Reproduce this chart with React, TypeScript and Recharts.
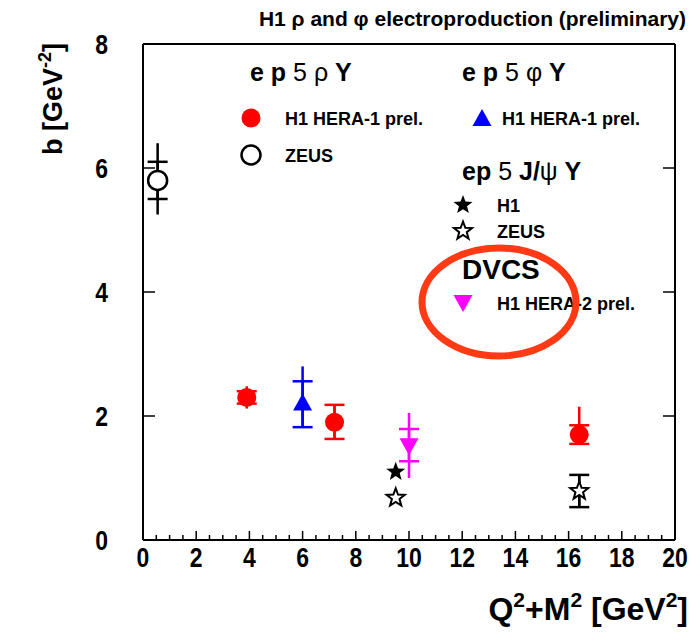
import React from "react";
import { ErrorBar, Scatter, ScatterChart, XAxis, YAxis } from "recharts";

// b slope vs Q^2+M^2
type Pt = { x: number; y: number; stat?: [number, number]; tot?: [number, number] };

const rhoH1: Pt[] = [
  { x: 3.9, y: 2.3, stat: [0.1, 0.1], tot: [0.18, 0.18] },
  { x: 7.2, y: 1.9, stat: [0.27, 0.28], tot: [0.27, 0.28] },
  { x: 16.4, y: 1.7, stat: [0.15, 0.15], tot: [0.15, 0.45] },
];
const rhoZeus: Pt[] = [{ x: 0.55, y: 5.8, stat: [0.3, 0.3], tot: [0.55, 0.6] }];
const phiH1: Pt[] = [{ x: 6.0, y: 2.2, stat: [0.38, 0.36], tot: [0.38, 0.6] }];
const psiH1: Pt[] = [{ x: 9.5, y: 1.1 }];
const psiZeus: Pt[] = [
  { x: 9.5, y: 0.68 },
  { x: 16.4, y: 0.79, stat: [0.26, 0.26], tot: [0.26, 0.26] },
];
const dvcsH1: Pt[] = [{ x: 10.0, y: 1.53, stat: [0.26, 0.26], tot: [0.53, 0.52] }];

const xTicks = Array.from({ length: 41 }, (_, i) => i * 0.5);
const yTicks = [0, 2, 4, 6, 8];

const FONT = "'Liberation Sans', Arial, Helvetica, sans-serif";
const RED = "#ff0000";
const BLUE = "#0000ff";
const MAGENTA = "#ff00ff";

function starPoints(cx: number, cy: number, R: number) {
  const pts: string[] = [];
  for (let i = 0; i < 10; i++) {
    const r = i % 2 === 0 ? R : R * 0.42;
    const a = -Math.PI / 2 + (i * Math.PI) / 5;
    pts.push(`${cx + r * Math.cos(a)},${cy + r * Math.sin(a)}`);
  }
  return pts.join(" ");
}

function Marker({ kind, cx, cy }: { kind: string; cx: number; cy: number }) {
  switch (kind) {
    case "fcircle":
      return <circle cx={cx} cy={cy} r={9.5} fill={RED} />;
    case "ocircle":
      return <circle cx={cx} cy={cy} r={9.5} fill="#fff" stroke="#000" strokeWidth={2.5} />;
    case "tri":
      return <polygon points={`${cx},${cy - 10} ${cx - 9.5},${cy + 7} ${cx + 9.5},${cy + 7}`} fill={BLUE} />;
    case "itri":
      return <polygon points={`${cx},${cy + 10} ${cx - 9.5},${cy - 7} ${cx + 9.5},${cy - 7}`} fill={MAGENTA} />;
    case "fstar":
      return <polygon points={starPoints(cx, cy, 10)} fill="#000" />;
    default:
      return <polygon points={starPoints(cx, cy, 9.5)} fill="#fff" stroke="#000" strokeWidth={2} />;
  }
}

const shape = (kind: string) => (p: any) => <Marker kind={kind} cx={p.cx} cy={p.cy} />;

// ROOT-ish tall bold digits
function Num({ x, y, anchor, v }: { x: number; y: number; anchor: "middle" | "end"; v: number }) {
  return (
    <text
      transform={`translate(${x},${y}) scale(1,1.2)`}
      textAnchor={anchor}
      fontFamily={FONT}
      fontWeight="bold"
      fontSize={23}
      fill="#000"
    >
      {v}
    </text>
  );
}

function BottomTick(p: any) {
  const v = p.payload.value;
  const major = Math.abs(v % 2) < 1e-6;
  return (
    <g>
      <line x1={p.x} x2={p.x} y1={p.y} y2={p.y - (major ? 9 : 5)} stroke="#000" strokeWidth={1.5} />
      {major && <Num x={p.x} y={p.y + 27} anchor="middle" v={v} />}
    </g>
  );
}

function TopTick(p: any) {
  const v = p.payload.value;
  const major = Math.abs(v % 2) < 1e-6;
  return <line x1={p.x} x2={p.x} y1={p.y} y2={p.y + (major ? 9 : 5)} stroke="#000" strokeWidth={1.5} />;
}

function LeftTick(p: any) {
  return (
    <g>
      <line x1={p.x} x2={p.x + 12} y1={p.y} y2={p.y} stroke="#000" strokeWidth={1.5} />
      <Num x={p.x - 35} y={p.y + 10} anchor="end" v={p.payload.value} />
    </g>
  );
}

function RightTick(p: any) {
  return <line x1={p.x} x2={p.x - 12} y1={p.y} y2={p.y} stroke="#000" strokeWidth={1.5} />;
}

function Errors({ color }: { color: string }) {
  return [
    <ErrorBar key="t" dataKey="tot" direction="y" width={0} stroke={color} strokeWidth={2.5} />,
    <ErrorBar key="s" dataKey="stat" direction="y" width={10} stroke={color} strokeWidth={2.5} />,
  ];
}

const axisLine = { stroke: "#000", strokeWidth: 2 };
const txt = { fontFamily: FONT, fontWeight: "bold" as const, fill: "#000" };

function Overlay() {
  return (
    <svg width={696} height={635} style={{ position: "absolute", left: 0, top: 0, pointerEvents: "none" }}>
      <text x={686} y={26} textAnchor="end" fontSize={21} {...txt}>
        H1 ρ and φ electroproduction (preliminary)
      </text>
      <text transform="translate(62,43) rotate(-90)" textAnchor="end" fontSize={27} {...txt}>
        b [GeV
        <tspan fontSize={18} dy={-11}>-2</tspan>
        <tspan dy={11}>]</tspan>
      </text>
      <text x={688} y={620} textAnchor="end" fontSize={32} {...txt}>
        Q<tspan fontSize={21} dy={-13}>2</tspan>
        <tspan dy={13}>+M</tspan>
        <tspan fontSize={21} dy={-13}>2</tspan>
        <tspan dy={13}> [GeV</tspan>
        <tspan fontSize={21} dy={-13}>2</tspan>
        <tspan dy={13}>]</tspan>
      </text>

      <text x={250} y={81} fontSize={25} {...txt}>
        e p <tspan fontWeight="normal">5 ρ</tspan> Y
      </text>
      <text x={462} y={81} fontSize={25} {...txt}>
        e p <tspan fontWeight="normal">5 φ</tspan> Y
      </text>
      <Marker kind="fcircle" cx={251} cy={118} />
      <text x={285} y={125} fontSize={18} {...txt}>H1 HERA-1 prel.</text>
      <Marker kind="ocircle" cx={251} cy={155} />
      <text x={285} y={162} fontSize={18} {...txt}>ZEUS</text>
      <Marker kind="tri" cx={482} cy={119} />
      <text x={502} y={125} fontSize={18} {...txt}>H1 HERA-1 prel.</text>

      <text x={462} y={180} fontSize={25} {...txt}>
        ep <tspan fontWeight="normal">5</tspan> J/<tspan fontWeight="normal">ψ</tspan> Y
      </text>
      <Marker kind="fstar" cx={463} cy={205} />
      <text x={497} y={212} fontSize={18} {...txt}>H1</text>
      <Marker kind="ostar" cx={463} cy={231} />
      <text x={497} y={238} fontSize={18} {...txt}>ZEUS</text>
      <text x={462} y={279} fontSize={28} {...txt}>DVCS</text>
      <Marker kind="itri" cx={463} cy={302} />
      <text x={497} y={310} fontSize={18} {...txt}>H1 HERA-2 prel.</text>
      <ellipse cx={499} cy={302} rx={77} ry={54} fill="none" stroke="#ff3a14" strokeWidth={7} />
    </svg>
  );
}

export default function App() {
  return (
    <div style={{ position: "absolute", left: 0, top: 0, width: 696, height: 635, background: "#fff" }}>
      <ScatterChart width={696} height={635} margin={{ top: 43, right: 20, bottom: 94, left: 142 }}>
        <XAxis
          type="number"
          dataKey="x"
          domain={[0, 20]}
          ticks={xTicks}
          interval={0}
          height={1}
          tickSize={0}
          tickMargin={0}
          tickLine={false}
          axisLine={axisLine}
          tick={<BottomTick />}
          allowDataOverflow
        />
        <XAxis
          xAxisId="top"
          orientation="top"
          type="number"
          domain={[0, 20]}
          ticks={xTicks}
          interval={0}
          height={1}
          tickSize={0}
          tickMargin={0}
          tickLine={false}
          axisLine={axisLine}
          tick={<TopTick />}
          allowDataOverflow
        />
        <YAxis
          type="number"
          dataKey="y"
          domain={[0, 8]}
          ticks={yTicks}
          interval={0}
          width={1}
          tickSize={0}
          tickMargin={0}
          tickLine={false}
          axisLine={axisLine}
          tick={<LeftTick />}
          allowDataOverflow
        />
        <YAxis
          yAxisId="right"
          orientation="right"
          type="number"
          domain={[0, 8]}
          ticks={yTicks}
          interval={0}
          width={1}
          tickSize={0}
          tickMargin={0}
          tickLine={false}
          axisLine={axisLine}
          tick={<RightTick />}
          allowDataOverflow
        />
        <Scatter data={rhoZeus} shape={shape("ocircle")} isAnimationActive={false}>
          {Errors({ color: "#000" })}
        </Scatter>
        <Scatter data={rhoH1} shape={shape("fcircle")} isAnimationActive={false}>
          {Errors({ color: RED })}
        </Scatter>
        <Scatter data={phiH1} shape={shape("tri")} isAnimationActive={false}>
          {Errors({ color: BLUE })}
        </Scatter>
        <Scatter data={psiH1} shape={shape("fstar")} isAnimationActive={false} />
        <Scatter data={psiZeus} shape={shape("ostar")} isAnimationActive={false}>
          {Errors({ color: "#000" })}
        </Scatter>
        <Scatter data={dvcsH1} shape={shape("itri")} isAnimationActive={false}>
          {Errors({ color: MAGENTA })}
        </Scatter>
      </ScatterChart>
      <Overlay />
    </div>
  );
}
